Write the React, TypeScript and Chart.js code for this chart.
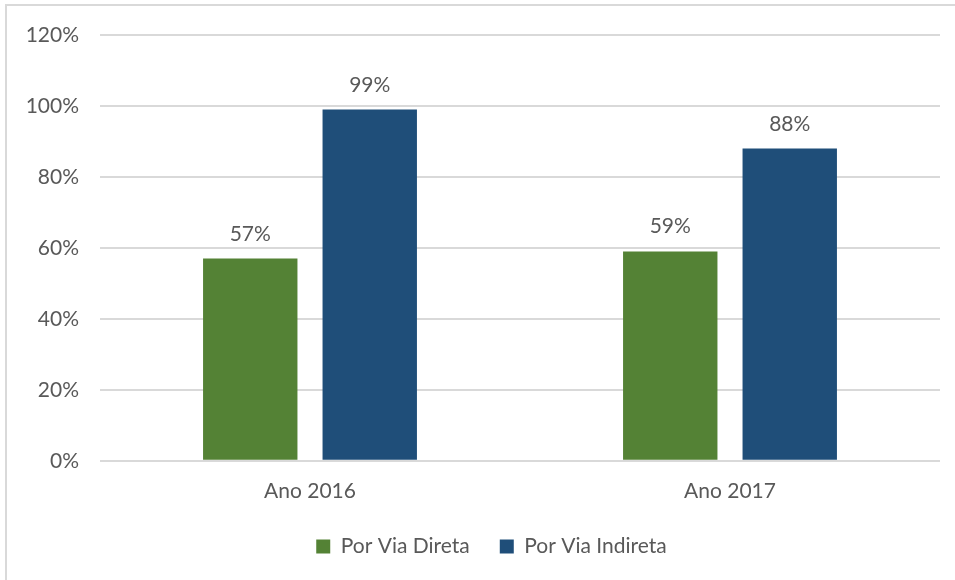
import React, { useEffect, useRef } from "react";
import { Chart, registerables } from "chart.js";

Chart.register(...registerables);

const categories = ["Ano 2016", "Ano 2017"];
const seriesNames = ["Por Via Direta", "Por Via Indireta"];
const diretaValues = [57, 59];
const indiretaValues = [99, 88];
const yTicks = [0, 20, 40, 60, 80, 100, 120];

const FONT = "Lato, 'Noto Sans', sans-serif";
const TEXT = "#595959";
const GRID = "#d9d9d9";

const valueLabels = {
  id: "valueLabels",
  afterDatasetsDraw(chart: any) {
    const ctx = chart.ctx;
    ctx.save();
    ctx.font = `21px ${FONT}`;
    ctx.fillStyle = TEXT;
    ctx.textAlign = "center";
    ctx.textBaseline = "alphabetic";
    chart.data.datasets.forEach((ds: any, i: number) => {
      const meta = chart.getDatasetMeta(i);
      meta.data.forEach((bar: any, j: number) => {
        ctx.fillText(`${ds.data[j]}%`, bar.x, bar.y - 18);
      });
    });
    ctx.restore();
  },
};

const legendShift = {
  id: "legendShift",
  afterLayout(chart: any) {
    if (chart.legend) chart.legend.left += 43;
  },
};

export default function App() {
  const ref = useRef<HTMLCanvasElement | null>(null);
  useEffect(() => {
    const canvas = ref.current!;
    const chart = new Chart(canvas, {
      type: "bar",
      data: {
        labels: categories,
        datasets: [
          {
            label: seriesNames[0],
            data: diretaValues,
            backgroundColor: "#548235",
            categoryPercentage: 0.569,
            barPercentage: 0.79,
          },
          {
            label: seriesNames[1],
            data: indiretaValues,
            backgroundColor: "#1f4e79",
            categoryPercentage: 0.569,
            barPercentage: 0.79,
          },
        ],
      },
      options: {
        responsive: false,
        animation: false,
        layout: { padding: { top: 35, right: 15, bottom: 13, left: 0 } },
        plugins: {
          tooltip: { enabled: false },
          legend: {
            position: "bottom",
            labels: {
              boxWidth: 14,
              boxHeight: 14,
              padding: 30,
              color: TEXT,
              font: { family: FONT, size: 21 },
            },
          },
        },
        scales: {
          x: {
            grid: { display: false },
            border: { display: false },
            afterFit(scale: any) {
              scale.height -= 8;
            },
            ticks: {
              color: TEXT,
              font: { family: FONT, size: 21 },
              padding: 10,
            },
          },
          y: {
            min: 0,
            max: 120,
            afterFit(scale: any) {
              scale.width = 100;
            },
            afterBuildTicks(scale: any) {
              scale.ticks = yTicks.map((v) => ({ value: v }));
            },
            grid: { color: GRID, lineWidth: 2, drawTicks: false },
            border: { display: false },
            ticks: {
              color: TEXT,
              font: { family: FONT, size: 21 },
              padding: 21,
              callback: (v: any) => `${v}%`,
            },
          },
        },
      },
      plugins: [valueLabels, legendShift],
    });
    return () => chart.destroy();
  }, []);

  return (
    <div
      style={{
        position: "fixed",
        left: 0,
        top: 0,
        width: 955,
        height: 580,
        background: "#fff",
        overflow: "hidden",
      }}
    >
      <canvas ref={ref} width={955} height={580} style={{ position: "absolute", left: 0, top: 0 }} />
      <div
        style={{
          position: "absolute",
          left: 5,
          top: 4,
          width: 960,
          height: 590,
          borderLeft: `2px solid ${GRID}`,
          borderTop: `2px solid ${GRID}`,
          pointerEvents: "none",
        }}
      />
    </div>
  );
}
